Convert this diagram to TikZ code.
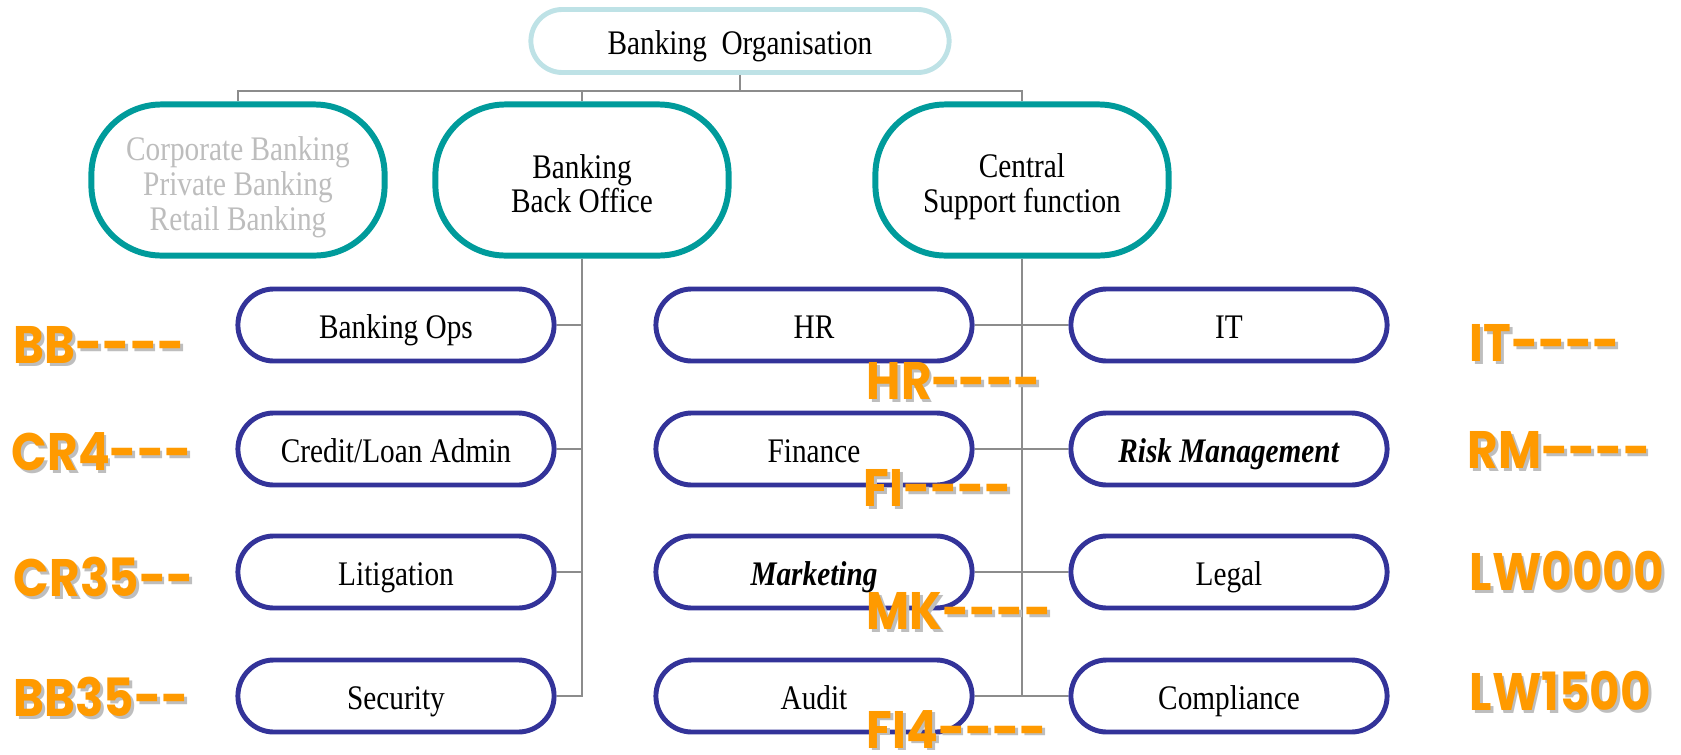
\documentclass[tikz,border=0pt]{standalone}
\usepackage{fontspec}
\setmainfont{Liberation Serif}[FakeStretch=0.85]
\newfontfamily\tagfont{Poppins}[Ligatures=TeXOff, FakeStretch=0.89]
\usepackage{xcolor}
\definecolor{OrgLightBlue}{HTML}{BEE2E6}
\definecolor{OrgTeal}{HTML}{009B9B}
\definecolor{OrgBlue}{HTML}{333399}
\definecolor{OrgGray}{HTML}{8C8C8C}
\definecolor{OrgFaded}{HTML}{BDBDBD}
\definecolor{TagOrange}{HTML}{FF9A00}
\definecolor{TagShadow}{HTML}{BEBEBE}
\usepackage{tikz}
\usetikzlibrary{positioning}

\newcommand{\topstrut}{\rule{0pt}{10.8pt}}
\newcommand{\botstrut}{\rule[-2pt]{0pt}{2pt}}
\newcommand{\codetag}[3]{%
  \node[tagShadow] at (#2) {#3};
  \node[tagText] (#1) at (#2) {#3};
}

\begin{document}
\begin{tikzpicture}[
    x=0.01cm, y=-0.01cm,
    orgTop/.style={rectangle,
    draw=OrgLightBlue,
    line width=1.4pt,
    minimum width=4.18cm,
    minimum height=0.63cm,
    rounded corners=0.315cm,
    text height=9pt, text depth=1.4pt,
    font=\fontsize{9.8}{11}\selectfont},
    orgUnit/.style={rectangle,
    draw=OrgTeal,
    line width=1.7pt,
    minimum width=2.93cm,
    minimum height=1.51cm,
    rounded corners=0.7cm,
    align=center,
    font=\fontsize{9.8}{9.9}\selectfont},
    orgDept/.style={rectangle,
    draw=OrgBlue,
    line width=1.4pt,
    minimum width=3.16cm,
    minimum height=0.72cm,
    rounded corners=0.36cm,
    text height=9pt, text depth=1.4pt,
    font=\fontsize{9.8}{11}\selectfont},
    orgLink/.style={draw=OrgGray, line width=0.6pt},
    tagText/.style={anchor=west, inner sep=0pt, text=TagOrange,
    font=\tagfont\bfseries\fontsize{15}{15}\selectfont},
    tagShadow/.style={tagText, text=TagShadow, xshift=0.8pt, yshift=-0.8pt}
    ]
    \useasboundingbox (0,0) rectangle (1681,754);
    \node[orgTop] (1) at (740,41) {Banking\ \ Organisation};
    \node[orgUnit, text=OrgFaded] (2) at (238,180) {\topstrut Corporate Banking\\Private Banking\\Retail Banking\botstrut};
    \node[orgUnit] (3) at (582,180) {\topstrut Banking\\Back Office\botstrut};
    \node[orgUnit] (4) at (1022,180) {\topstrut Central\\Support function\botstrut};
    \draw[orgLink] (1.south) -- ++(0,16) coordinate (bus) -| (2.north);
    \draw[orgLink] (bus) -| (3.north);
    \draw[orgLink] (bus) -| (4.north);
    \node[orgDept] (5) at (396,325) {Banking Ops};
    \node[orgDept] (6) at (396,449) {Credit/Loan Admin};
    \node[orgDept] (7) at (396,572) {Litigation};
    \node[orgDept] (8) at (396,696) {Security};
    \draw[orgLink] (3.south) |- (5.east);
    \draw[orgLink] (3.south) |- (6.east);
    \draw[orgLink] (3.south) |- (7.east);
    \draw[orgLink] (3.south) |- (8.east);
    \node[orgDept] (9) at (814,325) {HR};
    \node[orgDept] (10) at (814,449) {Finance};
    \node[orgDept] (11) at (814,572) {\textbf{\textit{Marketing}}};
    \node[orgDept] (12) at (814,696) {Audit};
    \node[orgDept] (13) at (1229,325) {IT};
    \node[orgDept] (14) at (1229,449) {\textbf{\textit{Risk Management}}};
    \node[orgDept] (15) at (1229,572) {Legal};
    \node[orgDept] (16) at (1229,696) {Compliance};
    \draw[orgLink] (4.south) -- (4.south |- 12.east);
    \draw[orgLink] (9) -- (13);
    \draw[orgLink] (10) -- (14);
    \draw[orgLink] (11) -- (15);
    \draw[orgLink] (12) -- (16);
    \codetag{bb}{13,345}{BB----}
    \codetag{cr4}{11,452}{CR4---}
    \codetag{cr35}{13,577}{CR35--}
    \codetag{bb35}{13,697}{BB35--}
    \codetag{hr}{866,381}{HR----}
    \codetag{fi}{863,488}{FI----}
    \codetag{mk}{866,611}{MK----}
    \codetag{fi4}{866,729}{FI4----}
    \codetag{it}{1469,343}{IT----}
    \codetag{rm}{1467,450}{RM----}
    \codetag{lw0}{1469,571}{LW0000}
    \codetag{lw15}{1469,691}{LW1500}
  \end{tikzpicture}
\end{document}
